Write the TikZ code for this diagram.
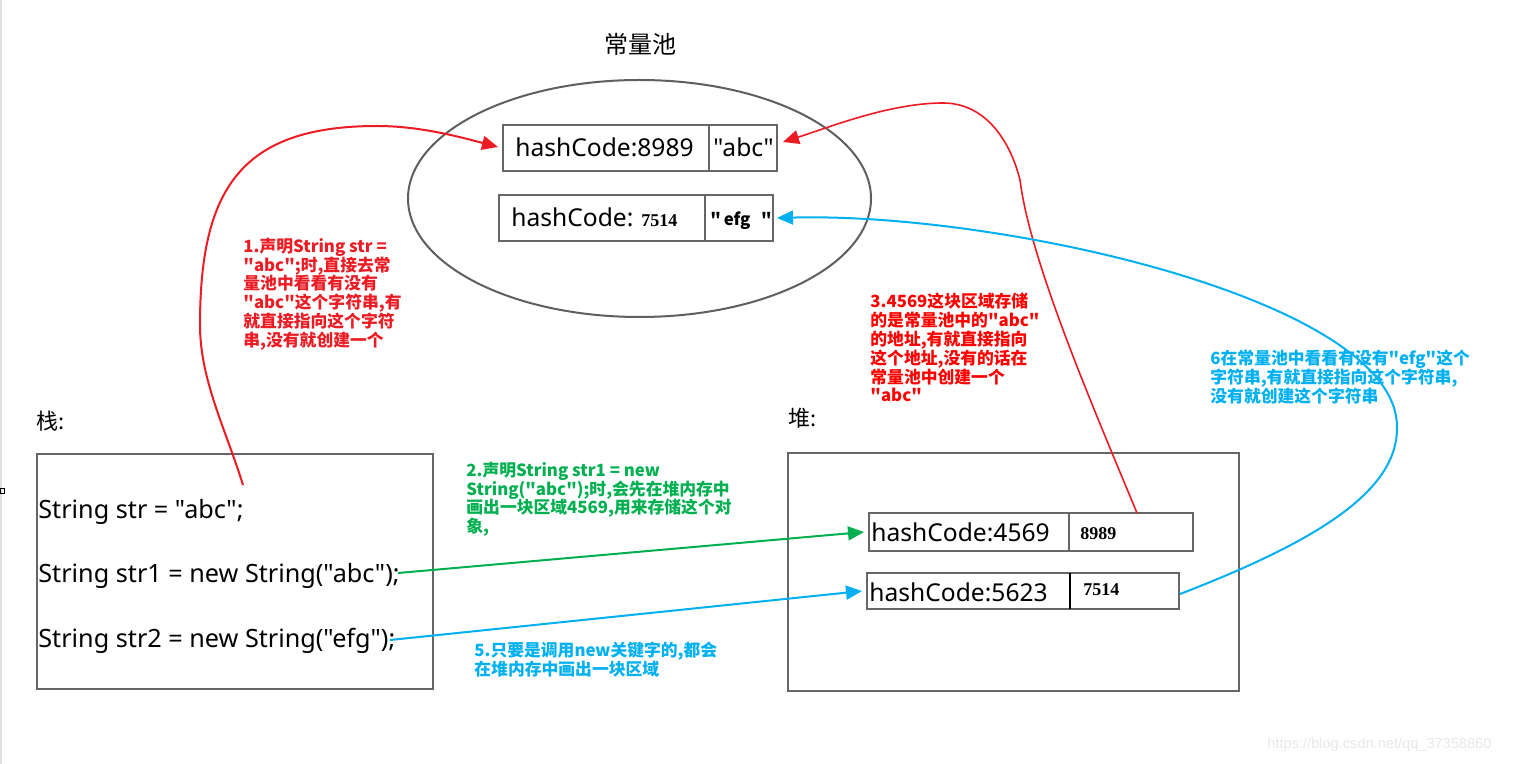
\documentclass[tikz,border=0pt]{standalone}
\usepackage{fontspec}
\setmainfont{Noto Sans}[Ligatures=TeXOff]
\newfontfamily\cjk{Noto Sans CJK SC}[Ligatures=TeXOff]
\newfontfamily\numf{Liberation Serif}[Ligatures=TeXOff]
\newfontfamily\wmf{Liberation Sans}[Ligatures=TeXOff]
\usetikzlibrary{arrows.meta,shapes.geometric,calc}
\definecolor{boxgray}{HTML}{666666}
\definecolor{ellgray}{HTML}{5F5F5F}
\definecolor{lred}{HTML}{ED1C24}
\definecolor{tred}{HTML}{FF0000}
\definecolor{tred1}{HTML}{EC1C24}
\definecolor{lgreen}{HTML}{00B050}
\definecolor{lblue}{HTML}{00B0F0}
\begin{document}
\begin{tikzpicture}[x=0.5pt,y=-0.5pt,
  box/.style={draw=boxgray, line width=1pt, inner sep=0pt, rectangle},
  code/.style={anchor=base west, inner sep=0pt, font=\fontsize{12.3}{14}\selectfont},
  stackcode/.style={code, font=\fontsize{12.6}{14}\selectfont},
  note/.style={anchor=north west, inner sep=0pt, align=left, font=\cjk\bfseries\fontsize{8.4}{9.4}\selectfont},
  num/.style={anchor=base west, inner sep=0pt, font=\numf\bfseries\fontsize{9}{10}\selectfont},
  head/.style={anchor=west, inner sep=0pt, font=\cjk\fontsize{11}{13}\selectfont},
  tip/.style={-{Triangle[length=8pt,width=7pt]}},
  conn/.style={line width=1pt, tip}]
\useasboundingbox (0,0) rectangle (1519,764);
\fill[white] (0,0) rectangle (1519,764);
% left edge artefacts
\draw[gray!25, line width=1pt] (1,0) -- (1,764);
\draw[black, line width=0.5pt] (0,488) rectangle (4,493);

% constant pool
\node[font=\cjk\fontsize{12}{14}\selectfont, inner sep=0pt] (title) at (640,44) {常量池};
\node[ellipse, draw=ellgray, line width=1pt, inner sep=0pt, minimum width=231.5pt, minimum height=118.5pt] (pool) at (639.5,198.5) {};
\node[box, minimum width=137pt, minimum height=23pt] (p1) at (640,148) {};
\draw[boxgray, line width=1pt] (709,125) -- (709,171);
\node[code] (p1a) at (515,157) {hashCode:8989};
\node[code] (p1b) at (713,157) {"abc"};
\node[box, minimum width=137pt, minimum height=23pt] (p2) at (636,218) {};
\draw[boxgray, line width=1pt] (705,195) -- (705,241);
\node[code] (p2a) at (511,227) {hashCode:};
\node[num] (p2b) at (641,227) {7514};
\node[anchor=base west, inner sep=0pt, font=\cjk\bfseries\fontsize{8.4}{10}\selectfont] (p2c) at (710,226) {"\,efg\ \ \,"};

% stack
\node[head] (stk) at (36,421) {栈:};
\node[box, minimum width=198pt, minimum height=117.5pt] (stack) at (235,571.5) {};
\node[stackcode] (s1) at (38,518) {String str = "abc";};
\node[stackcode] (s2) at (38,582) {String str1 = new String("abc");};
\node[stackcode] (s3) at (38,647) {String str2 = new String("efg");};

% heap
\node[head] (hp) at (788,418) {堆:};
\node[box, minimum width=225.5pt, minimum height=119pt] (heap) at (1013.5,572) {};
\node[box, minimum width=162pt, minimum height=19pt] (h1) at (1031,532) {};
\draw[boxgray, line width=1pt] (1069,513) -- (1069,551);
\node[code] (h1a) at (871,541) {hashCode:4569};
\node[num] (h1b) at (1080,539) {8989};
\node[box, minimum width=156pt, minimum height=18pt] (h2) at (1023,591) {};
\draw[black, line width=1pt] (1070,573) -- (1070,609);
\node[code] (h2a) at (869,601) {hashCode:5623};
\node[num] (h2b) at (1083,595) {7514};

% annotations
\node[note, text=tred1] (n1) at (243,237.5) {1.声明String str =\\"abc";时,直接去常\\量池中看看有没有\\"abc"这个字符串,有\\就直接指向这个字符\\串,没有就创建一个};
\node[note, text=lgreen] (n2) at (466,461.5) {2.声明String str1 = new\\String("abc");时,会先在堆内存中\\画出一块区域4569,用来存储这个对\\象,};
\node[note, text=tred] (n3) at (870,293) {3.4569这块区域存储\\的是常量池中的"abc"\\的地址,有就直接指向\\这个地址,没有的话在\\常量池中创建一个\\"abc"};
\node[note, text=lblue] (n5) at (474,642) {5.只要是调用new关键字的,都会\\在堆内存中画出一块区域};
\node[note, text=lblue] (n6) at (1210,349.5) {6在常量池中看看有没有"efg"这个\\字符串,有就直接指向这个字符串,\\没有就创建这个字符串};

% connector end points
\coordinate (r1s) at (243,485);
\coordinate (r1e) at ($(p1.west)+(-4,-1)$);
\coordinate (r3s) at (1137,513);
\coordinate (r3e) at (783,142);
\coordinate (gs) at (398,573);
\coordinate (ge) at (864,532);
\coordinate (b5s) at (390,640);
\coordinate (b5e) at (862,591);
\coordinate (b6s) at (1180,594);
\coordinate (b6e) at (777,218);

% connectors
\draw[conn, lred] (r1s) .. controls (226,430) and (200,380) .. (200,325)
  .. controls (200,190) and (240,126) .. (377,126)
  .. controls (420,126) and (460,137) .. (r1e);
\draw[conn, lred, line width=0.8pt] (r3s) .. controls (1090,400) and (1030,260) .. (1020,180)
  .. controls (1010,140) and (985,103) .. (943,103)
  .. controls (890,103) and (830,127) .. (r3e);
\draw[conn, lgreen] (gs) -- (ge);
\draw[conn, lblue] (b5s) -- (b5e);
\draw[conn, lblue] (b6s) .. controls (1320,540) and (1398,490) .. (1397,427)
  .. controls (1397,300) and (1000,212) .. (b6e);

% watermark
\node[anchor=west, inner sep=0pt, text=gray!18, font=\wmf\fontsize{7.3}{9}\selectfont] (wm) at (1267,745) {https://blog.csdn.net/qq\_37358860};
\end{tikzpicture}
\end{document}
